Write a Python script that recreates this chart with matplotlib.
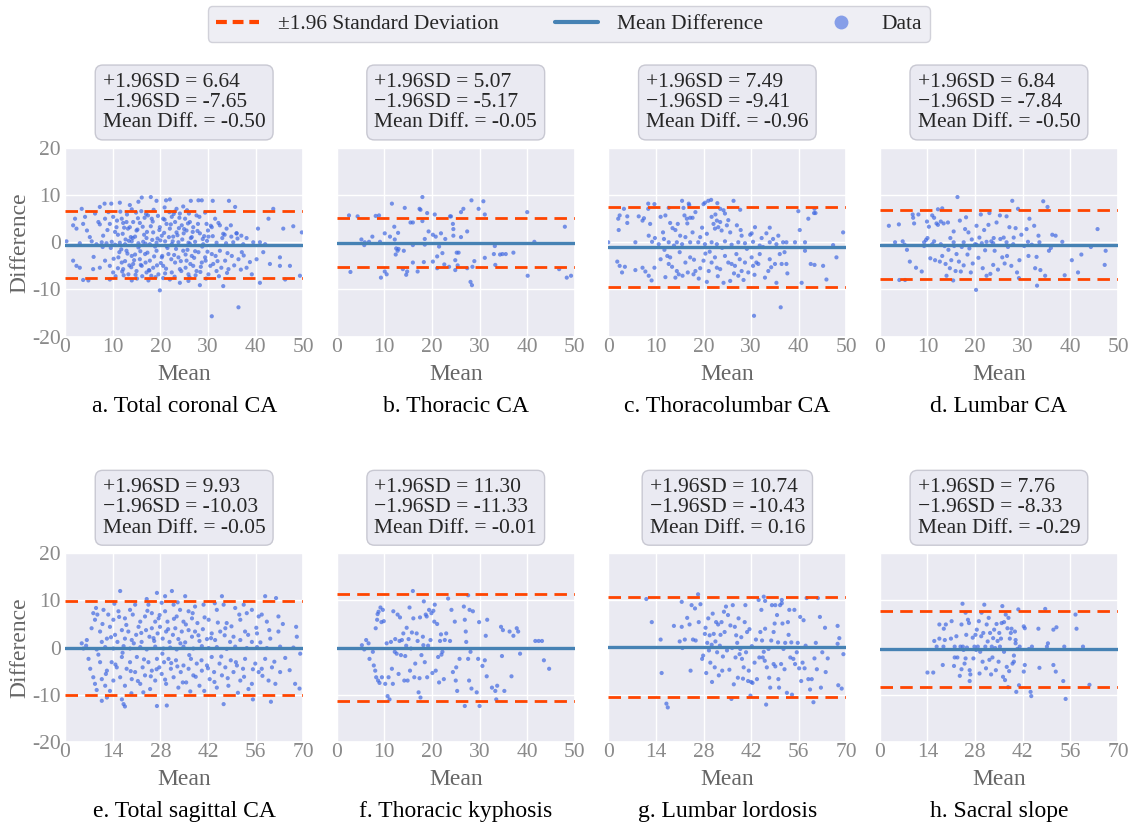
import numpy as np
import matplotlib
matplotlib.use("Agg")
import matplotlib.pyplot as plt
import seaborn as sns
from matplotlib.lines import Line2D

sns.set_theme(style="darkgrid")
plt.rcParams['font.family'] = ['Liberation Serif', 'DejaVu Serif']
plt.rcParams['axes.unicode_minus'] = False

# ---------------------------------------------------------------------------
# Panel data (mean, difference)
# ---------------------------------------------------------------------------
titles = ["a. Total coronal CA", "b. Thoracic CA", "c. Thoracolumbar CA", "d. Lumbar CA",
          "e. Total sagittal CA", "f. Thoracic kyphosis", "g. Lumbar lordosis", "h. Sacral slope"]
upper_sd = [6.64, 5.07, 7.49, 6.84, 9.93, 11.30, 10.74, 7.76]
lower_sd = [-7.65, -5.17, -9.41, -7.84, -10.03, -11.33, -10.43, -8.33]
mean_diff = [-0.50, -0.05, -0.96, -0.50, -0.05, -0.01, 0.16, -0.29]
x_max = [50, 50, 50, 50, 70, 50, 70, 70]
x_step = [10, 10, 10, 10, 14, 10, 14, 14]

a_pts = [
    (16.1, 9.5), (18.0, 9.6), (15.4, 8.6), (11.5, 8.4), (9.7, 8.2), (8.3, 8.2), (13.6, 7.9), (19.2, 8.8),
    (21.2, 8.9), (22.0, 9.1), (26.4, 8.8), (28.0, 8.9), (28.7, 8.9), (31.0, 8.8), (34.4, 8.8), (35.7, 7.5),
    (43.7, 7.1), (24.8, 7.6), (23.4, 7.1), (3.5, 7.1), (7.3, 7.5),
    (2.1, 5.0), (1.7, 3.6), (2.4, 2.9), (4.2, 5.4), (3.8, 3.9), (6.3, 6.1), (7.0, 4.3), (7.3, 3.8),
    (8.4, 5.0), (9.4, 3.9), (10.1, 5.4), (10.8, 3.2), (11.9, 5.0), (12.2, 4.1), (12.9, 4.3), (13.6, 3.2),
    (14.3, 4.3), (15.0, 2.5), (15.7, 4.1), (16.7, 5.2), (17.4, 5.7), (18.2, 5.0), (18.5, 2.1), (19.9, 3.2),
    (20.6, 5.0), (21.3, 3.9), (22.0, 2.9), (22.4, 5.4), (23.1, 4.3), (23.4, 2.1), (24.1, 6.1), (24.5, 3.6),
    (25.2, 5.0), (25.5, 2.5), (26.2, 4.3), (26.9, 3.2), (27.6, 5.7), (28.3, 1.9), (29.7, 3.9), (30.8, 3.2),
    (31.5, 5.0), (32.5, 3.6), (33.2, 1.8), (33.9, 2.9), (34.9, 1.2), (36.0, 1.9), (37.0, 1.4), (40.5, 2.9),
    (42.7, 5.0), (45.8, 2.9), (47.9, 3.4), (49.7, 2.1), (5.2, 1.1), (8.0, 1.4), (11.1, 1.6), (14.7, 1.2),
    (17.1, 0.9), (20.3, 1.4), (22.7, 1.2), (26.6, 1.1), (30.1, 1.2), (38.1, 0.9),
    (0.3, 0.2), (3.1, -0.2), (5.6, 0.2), (6.6, -0.4), (7.7, 0.0), (8.7, -0.2), (9.8, 0.1), (10.5, -0.5),
    (11.5, -0.1), (12.6, -0.4), (14.0, 0.2), (15.4, -0.2), (16.4, 0.1), (17.8, -0.4), (19.2, -0.1), (21.0, 0.2),
    (22.4, -0.4), (23.8, 0.0), (25.9, -0.1), (27.3, 0.1), (29.0, -0.4), (31.8, -0.1), (35.3, 0.0), (37.4, -0.4),
    (39.5, 0.0), (40.9, 0.0), (42.0, -0.4),
    (1.7, -3.9), (2.4, -5.0), (3.1, -5.4), (5.9, -5.7), (7.3, -5.4), (8.4, -3.9), (9.4, -5.0), (10.1, -6.4),
    (11.2, -3.2), (11.9, -4.3), (12.2, -5.7), (12.9, -1.8), (13.3, -6.8), (14.0, -2.9), (14.3, -4.6), (15.0, -6.1),
    (15.4, -1.1), (15.7, -3.6), (16.1, -5.0), (16.8, -2.5), (17.1, -6.4), (17.8, -3.9), (18.5, -5.4), (19.2, -1.8),
    (19.6, -6.8), (20.3, -3.2), (20.6, -5.0), (21.7, -2.5), (22.4, -6.4), (23.1, -4.3), (23.8, -3.2), (24.1, -5.7),
    (24.8, -1.8), (25.5, -3.9), (25.9, -6.8), (26.6, -2.9), (26.9, -5.0), (27.6, -6.1), (28.0, -2.1), (28.7, -4.3),
    (29.4, -3.2), (30.1, -6.8), (30.8, -2.5), (31.1, -4.6), (31.8, -6.1), (32.5, -1.8), (33.6, -3.9), (34.3, -5.7),
    (35.0, -2.9), (36.4, -3.6), (37.1, -2.1), (38.1, -5.4), (39.2, -6.8), (40.2, -3.6), (41.6, -2.1), (43.0, -4.6),
    (45.1, -5.0), (47.2, -5.0), (49.3, -7.1), (45.1, -3.2),
    (3.8, -8.0), (4.9, -8.1), (9.4, -7.9), (14.0, -8.1), (17.5, -8.1), (19.9, -10.2), (24.1, -8.6), (25.9, -8.2),
    (28.3, -9.1), (33.2, -9.3), (36.4, -13.8), (30.8, -15.7), (40.9, -8.6), (46.2, -7.9),
    (10.5, 2.2), (11.8, -1.5), (12.4, 3.1), (13.1, -2.4), (13.8, 1.1), (14.5, -3.8), (15.2, 2.7), (15.9, -4.8),
    (16.6, 1.6), (17.3, -2.2), (18.0, 3.4), (18.7, -3.0), (19.4, 0.8), (20.1, -4.4), (20.8, 2.0), (21.5, -1.2),
    (22.2, 3.8), (22.9, -2.7), (23.6, 1.5), (24.3, -4.0), (25.0, 2.8), (25.7, -1.6), (26.4, 0.9), (27.1, -3.3),
    (27.8, 2.4), (28.5, -5.2), (29.2, 1.3), (29.9, -2.0), (30.6, 3.5), (11.1, -5.5), (12.0, -6.2), (13.5, -4.9),
    (14.8, -6.9), (16.2, -7.2), (17.6, -5.9), (19.0, -7.4), (21.0, -6.6), (23.0, -7.3), (25.3, -5.4), (27.4, -7.0),
    (13.0, 5.9), (14.9, 6.3), (17.0, 6.0), (19.5, 5.6), (21.9, 6.4), (24.0, 5.2), (26.0, 6.1), (28.2, 5.4),
    (12.7, 0.6), (15.6, -0.7), (18.3, 0.5), (21.3, -0.8), (24.6, 0.6), (28.8, -0.9), (32.0, -4.0), (33.0, 0.9),
    (34.0, -6.5), (36.0, 1.9), (37.5, -2.8), (38.8, -4.2),
    (8.9, 2.6), (9.6, -1.2), (10.2, -3.5), (10.9, 4.6), (11.4, -2.1), (12.1, 1.8), (12.6, -4.0), (13.2, 2.9),
    (13.9, -5.3), (14.2, 0.9), (14.7, -2.6), (15.3, 5.1), (15.8, -1.9), (16.3, 3.3), (16.9, -4.3), (17.2, 2.2),
    (17.7, -6.0), (18.4, 4.4), (18.9, -0.9), (19.3, -4.9), (19.8, 2.6), (20.4, -2.9), (20.9, 4.8), (21.2, -5.6),
    (21.8, 1.1), (22.3, -3.6), (22.8, 6.0), (23.3, -1.4), (23.9, 3.0), (24.4, -6.1), (24.9, 1.9), (25.3, -2.6),
    (25.8, 4.0), (26.3, -4.6), (26.8, 2.2), (27.3, -1.9), (27.9, 3.9), (28.4, -6.3), (28.9, 0.7), (29.5, -3.9),
    (30.0, 2.5), (30.5, -5.0), (31.0, 1.3), (31.6, -2.9), (32.2, 4.1), (32.8, -5.4), (33.5, 1.6), (34.1, -2.3),
    (34.8, 3.6), (35.5, -4.9), (36.2, 0.8), (36.9, -5.8), (12.3, -7.0), (15.1, -7.7), (18.1, -7.1), (20.6, -7.6),
    (22.0, -7.9), (26.1, -7.4), (29.6, -7.7), (32.3, -7.2), (11.6, 6.5), (14.0, 7.0), (16.0, 6.6), (18.6, 6.9),
    (20.9, 7.4), (23.0, 6.5), (25.6, 6.8), (29.4, 6.3), (13.4, 0.3), (16.9, -0.3), (20.0, 0.4), (22.6, 0.2),
    (26.2, -0.3), (29.8, 0.3), (33.8, -0.2), (7.9, -1.0), (6.0, -3.1), (4.6, 2.5), (9.1, 6.4), (10.6, -7.2),
]

b_pts = [
    (2.6, 5.7), (2.9, -6.3), (4.4, 5.5), (5.2, 0.6), (5.8, -0.6), (5.9, 0.0), (6.8, 0.1), (7.5, 1.2),
    (8.2, 5.6), (8.9, 5.7), (9.1, 0.1), (9.3, -7.5), (10.1, 1.9), (10.1, -6.2), (10.5, -6.8), (11.2, 1.2),
    (11.6, 8.2), (12.1, 3.3), (12.2, 0.6), (12.4, -2.6), (12.5, -1.3), (12.8, -1.8), (12.9, 2.0), (13.0, -1.4),
    (13.9, -5.7), (14.1, -1.8), (14.3, 7.3), (14.6, -6.9), (14.8, -6.2), (15.5, 4.2), (16.0, 4.2), (16.0, -0.6),
    (16.0, -4.3), (17.0, -6.2), (17.4, 7.1), (17.6, 6.9), (18.0, 4.5), (18.0, 9.6), (18.3, -4.2), (18.5, 0.7),
    (18.5, -0.5), (19.0, 6.2), (19.3, 2.3), (20.2, 1.6), (20.2, -4.1), (20.6, 5.9), (20.8, 1.2), (21.1, -3.0),
    (21.1, -5.5), (21.5, -0.9), (21.9, 1.9), (22.2, -2.3), (22.6, -4.7), (22.8, 0.7), (23.6, -5.2), (23.8, 5.5),
    (24.0, 5.5), (24.4, 3.9), (24.5, 2.8), (24.5, 1.4), (24.9, -3.8), (24.9, -5.9), (25.2, -2.2), (25.4, -4.9),
    (25.6, -2.2), (26.1, 1.1), (26.1, 6.4), (26.6, 7.1), (27.4, 2.3), (27.4, -5.5), (28.1, -8.4), (28.3, 8.9),
    (28.4, -9.1), (28.5, -5.2), (28.9, -4.0), (29.8, 7.1), (30.8, 8.7), (31.1, 5.9), (31.1, -3.3), (33.0, -2.5),
    (33.2, -0.8), (33.3, -4.8), (34.3, -2.6), (34.8, -2.5), (35.5, -2.5), (37.1, -2.2), (40.0, 6.4), (40.1, -7.1),
    (41.5, 0.1), (46.7, -5.7), (47.9, 3.3), (48.3, -7.5), (49.2, -7.1),
]

c_pts = [
    (8.4, 8.2), (9.7, 8.1), (15.5, 8.8), (16.9, 8.2), (20.0, 8.1), (20.3, 8.4), (21.0, 8.8), (21.6, 9.0),
    (26.3, 8.8), (3.3, 7.1), (8.4, 7.1), (12.7, 7.3), (15.8, 7.3), (23.5, 7.1), (24.2, 6.8), (27.7, 6.9),
    (39.9, 6.6), (43.3, 7.1), (43.2, 6.2),
    (2.4, 5.7), (2.1, 5.0), (2.2, 2.6), (4.0, 5.5), (4.0, 4.1), (6.4, 5.5), (7.2, 4.6), (7.5, 5.1),
    (8.8, 3.9), (8.5, 1.4), (9.8, 0.9), (11.0, 5.4), (12.0, 5.7), (11.5, 2.1), (13.0, 4.1), (14.1, 2.6),
    (14.6, 3.9), (15.1, 1.4), (16.0, 5.7), (16.5, 5.0), (17.2, 5.2), (17.7, 5.2), (16.2, 1.1), (17.7, 2.1),
    (18.3, 6.4), (19.3, 1.1), (20.7, 1.8), (21.7, 5.4), (22.1, 3.9), (22.4, 2.9), (22.8, 4.6), (23.1, 3.2),
    (23.5, 4.3), (23.8, 2.5), (24.5, 6.1), (24.9, 3.6), (25.6, 2.1), (27.0, 3.6), (28.0, 1.4), (29.8, 1.6),
    (30.1, 1.9), (30.8, 3.2), (32.2, 0.9), (33.9, 3.1), (33.2, 1.9), (34.6, 0.7), (35.7, 1.4), (36.7, 0.0),
    (40.2, 2.6), (41.3, 0.0), (42.0, 5.0), (43.5, 6.2), (47.2, -0.6), (49.3, 2.1), (0.0, 0.0),
    (5.7, 0.0), (9.2, 0.1), (10.6, -0.4), (11.7, 0.7), (12.7, 0.0), (13.8, -0.7), (14.4, 0.0), (15.5, -0.4),
    (17.2, 0.0), (18.9, 0.0), (20.3, -0.4), (21.7, 0.0), (22.8, -0.4), (24.5, 0.2), (25.9, -0.5), (27.3, 0.0),
    (28.7, -0.2), (30.4, 0.1), (31.8, -0.7), (33.9, 0.0), (35.3, -0.4), (37.4, 0.0), (39.2, 0.0),
    (1.9, -4.1), (2.4, -5.0), (2.9, -6.4), (3.5, -5.2), (5.7, -5.9), (7.2, -5.4), (7.8, -6.2), (8.5, -7.1),
    (9.1, -8.1), (9.7, -5.4), (11.0, -3.6), (12.4, -2.9), (12.7, -4.6), (13.0, -3.2), (13.4, -5.2), (14.1, -7.5),
    (14.4, -6.1), (14.8, -6.8), (15.6, -7.1), (16.2, -4.3), (16.7, -6.4), (17.2, -3.2), (17.9, -6.8), (18.3, -6.1),
    (19.3, -5.5), (20.0, -3.9), (20.4, -2.4), (20.7, -8.4), (21.1, -6.1), (21.7, -4.3), (22.4, -3.2), (22.8, -5.4),
    (23.5, -5.7), (24.2, -8.6), (24.5, -2.9), (25.2, -4.3), (25.6, -8.2), (25.9, -4.6), (26.6, -5.0), (26.9, -2.5),
    (27.3, -7.1), (27.6, -3.6), (28.0, -6.1), (28.7, -4.3), (29.4, -6.4), (30.1, -3.2), (30.4, -5.0), (31.1, -4.3),
    (31.5, -4.6), (31.8, -2.5), (32.9, -7.5), (33.6, -6.1), (33.9, -3.6), (35.0, -4.6), (35.3, -8.6), (36.0, -2.5),
    (36.4, -4.6), (37.4, -4.6), (37.6, -6.6), (37.0, -2.1), (40.6, -8.6), (41.3, -1.8), (42.5, -4.6), (43.3, -4.8),
    (45.1, -5.0), (45.8, -7.9), (47.9, -3.2), (30.6, -15.6), (36.2, -13.8),
    (11.8, -1.6), (13.5, 3.0), (15.0, -2.1), (16.6, 4.0), (18.0, -3.7), (19.7, 3.1), (21.3, -2.0), (22.5, 5.9),
    (23.9, -1.2), (25.2, 4.7), (26.4, -6.6), (27.8, 2.6), (29.1, -1.4), (30.7, -6.9), (32.5, -1.0), (34.2, -5.3),
    (19.0, -7.7), (23.0, -7.2), (28.4, -8.0), (17.0, 7.9), (22.9, 8.3), (12.0, -7.4),
]

d_pts = [
    (1.9, 3.5), (4.0, 3.8), (4.1, -8.0), (5.3, -8.0), (3.2, 0.0), (4.8, 0.2), (5.2, -0.5), (5.7, -1.6),
    (6.3, -4.1), (6.9, 5.9), (7.0, 5.2), (7.2, 4.0), (7.6, -5.4), (8.1, 5.9), (8.8, -6.2), (9.3, -0.8),
    (9.7, 0.5), (9.9, 4.4), (10.0, 0.9), (10.3, 3.3), (10.6, -3.4), (11.0, 5.7), (11.0, -0.4), (11.4, 5.2),
    (11.6, -3.8), (11.9, 4.0), (12.2, 7.0), (12.2, 3.7), (12.6, -4.1), (12.8, 4.4), (13.1, 7.2), (13.1, -2.9),
    (13.4, 4.0), (13.6, -0.8), (13.8, -4.6), (14.0, -7.1), (14.3, 4.2), (14.4, -1.6), (14.7, -5.5), (14.8, 0.9),
    (15.0, -3.8), (15.4, -8.1), (15.5, 2.3), (15.6, -0.8), (15.9, -6.1), (16.1, -2.5), (16.3, 9.6), (16.6, -4.1),
    (16.8, 4.6), (17.0, -6.2), (17.2, -1.0), (17.6, -4.9), (17.9, 2.8), (18.1, 5.3), (18.4, -2.6), (18.6, 2.1),
    (18.8, -1.3), (19.1, -6.4), (19.3, 0.6), (19.5, -4.5), (20.0, -0.4), (20.2, -10.1), (20.3, 3.5), (20.7, -3.3),
    (20.9, 1.0), (21.2, 5.9), (21.4, -0.2), (21.6, -5.5), (21.9, 2.6), (22.1, -1.7), (22.4, -7.1), (22.8, 3.7),
    (23.0, 6.2), (23.2, -6.7), (23.4, 0.2), (23.8, -4.8), (23.9, 0.9), (24.1, -1.8), (24.5, 4.2), (24.8, -5.8),
    (25.2, 5.7), (25.3, 0.7), (25.7, -3.2), (26.0, 1.0), (26.2, -4.5), (26.6, 5.5), (26.7, -2.9), (26.9, -1.0),
    (27.2, 3.2), (27.6, -5.0), (27.8, 8.8), (28.1, 1.0), (28.5, 3.0), (28.8, -6.4), (29.0, 7.1), (29.2, -7.6),
    (29.3, -3.8), (29.7, 1.6), (30.3, -0.8), (30.8, 2.8), (31.2, -2.9), (31.4, 5.0), (31.9, -0.5), (32.4, 3.5),
    (32.6, -5.5), (32.9, -3.1), (33.0, -9.2), (33.3, 1.4), (33.7, -5.9), (34.3, 8.7), (34.7, -7.1), (35.2, 7.5),
    (35.5, -1.8), (35.9, -1.2), (36.2, 1.6), (36.9, 1.4), (38.8, -7.0), (40.3, -3.8), (41.6, -6.4), (42.3, -2.6),
    (44.3, -1.0), (45.7, 2.8), (47.2, -4.8), (47.4, -1.8),
    (9.3, 0.0), (11.4, 0.2), (12.8, -0.4), (15.5, 0.0), (17.6, 0.0), (20.3, -0.5), (22.4, 0.1), (23.8, -0.2),
    (26.6, 0.0), (28.0, -0.4), (31.1, 0.1), (33.5, 0.0), (38.3, 0.1),
]

e_pts = [
    (16.2, 12.0), (27.0, 11.6), (29.4, 10.9), (31.4, 12.0), (35.3, 10.9), (46.1, 10.9), (58.8, 10.9), (62.0, 10.5),
    (24.0, 10.3),
    (8.3, 7.3), (9.1, 8.4), (9.5, 7.0), (8.8, 5.9), (11.3, 8.0), (12.7, 7.0), (14.2, 5.9), (15.7, 7.7),
    (17.6, 6.2), (19.1, 8.0), (19.9, 7.0), (20.6, 9.1), (22.1, 5.5), (23.5, 6.6), (24.5, 9.1), (25.5, 7.3),
    (26.5, 5.5), (27.5, 6.2), (28.4, 9.5), (29.4, 7.7), (30.1, 5.5), (31.9, 9.1), (32.8, 6.6), (33.8, 8.0),
    (34.8, 5.5), (36.3, 7.7), (37.3, 6.2), (38.2, 8.7), (38.9, 5.2), (40.7, 9.1), (42.2, 5.9), (44.6, 8.0),
    (46.6, 9.1), (47.5, 5.2), (50.0, 8.4), (51.5, 5.9), (52.5, 9.1), (53.4, 7.3), (54.9, 8.0), (56.9, 6.6),
    (57.8, 7.0), (59.3, 5.5), (62.7, 6.6), (67.9, 4.4),
    (4.9, 0.9), (6.4, 1.6), (7.8, 4.1), (10.3, 3.4), (10.8, 1.2), (12.3, 1.9), (13.2, 4.4), (14.7, 2.7),
    (15.4, 1.2), (16.7, 3.7), (17.6, 1.9), (18.6, 3.4), (19.6, 1.6), (20.9, 2.7), (21.6, 4.4), (22.5, 1.2),
    (23.8, 3.7), (24.8, 2.3), (25.5, 4.1), (26.2, 1.4), (27.2, 3.0), (27.9, 4.4), (28.7, 1.9), (29.7, 3.4),
    (30.7, 1.2), (31.7, 2.7), (32.4, 4.1), (33.3, 1.8), (34.3, 3.4), (35.3, 1.1), (36.3, 3.7), (37.3, 2.3),
    (38.2, 3.4), (39.5, 1.4), (40.5, 3.9), (41.7, 1.8), (43.1, 3.0), (44.1, 1.6), (45.6, 3.4), (47.1, 4.1),
    (48.5, 1.2), (49.5, 2.3), (51.5, 1.6), (52.9, 3.4), (54.9, 1.2), (56.4, 3.0), (57.4, 1.1), (60.3, 1.9),
    (62.7, 3.4), (68.1, 2.3),
    (5.4, -0.2), (6.2, 0.4), (9.3, -0.4), (11.8, 0.1), (14.2, -0.2), (17.2, 0.3), (19.1, -0.2), (22.1, 0.1),
    (24.0, -0.4), (26.5, 0.2), (28.9, -0.2), (30.9, 0.0), (32.8, -0.4), (34.8, 0.2), (37.7, -0.2), (40.2, 0.3),
    (42.2, -0.1), (44.6, 0.1), (47.5, -0.3), (50.0, 0.2), (53.4, -0.1), (56.4, 0.1), (59.3, -0.1), (63.2, 0.2),
    (67.1, 0.0),
    (6.9, -2.4), (7.4, -4.5), (8.3, -6.3), (8.8, -7.7), (10.3, -3.1), (10.8, -6.7), (11.8, -8.1), (12.3, -4.9),
    (13.2, -9.2), (13.7, -3.1), (14.2, -7.0), (15.2, -4.2), (16.2, -6.3), (16.7, -2.0), (17.6, -8.1), (18.1, -4.5),
    (19.1, -3.1), (19.6, -6.7), (20.6, -5.2), (21.1, -2.0), (22.1, -7.7), (22.8, -4.2), (23.5, -5.9), (24.5, -3.1),
    (25.0, -8.8), (25.5, -4.9), (26.5, -7.0), (27.0, -2.4), (27.7, -4.2), (28.4, -5.6), (29.1, -3.1), (29.7, -7.7),
    (30.4, -2.4), (31.1, -4.5), (31.9, -6.3), (32.6, -2.7), (33.3, -8.5), (34.0, -5.2), (34.8, -3.8), (35.6, -7.4),
    (36.3, -4.5), (37.0, -2.4), (37.7, -5.9), (38.7, -3.4), (39.5, -8.1), (40.2, -4.9), (40.9, -9.2), (41.7, -3.8),
    (42.5, -6.7), (43.1, -2.0), (43.8, -5.2), (44.6, -8.5), (45.4, -3.4), (46.1, -5.9), (47.1, -4.2), (48.0, -8.1),
    (48.7, -2.7), (49.5, -5.2), (50.5, -3.8), (51.5, -7.0), (52.3, -4.5), (52.9, -2.4), (53.9, -8.8), (54.9, -7.7),
    (55.9, -3.4), (56.9, -5.2), (57.8, -4.5), (58.8, -2.4), (59.8, -7.0), (60.8, -4.2), (61.8, -7.7), (63.2, -5.2),
    (64.7, -2.2), (67.6, -7.7), (68.9, -8.7), (69.1, -1.3),
    (10.8, -11.3), (17.2, -12.0), (17.6, -12.5), (27.0, -12.4), (29.9, -12.3), (46.6, -12.0), (55.2, -11.0),
    (60.5, -11.5), (16.7, -11.0), (12.3, -10.6),
    (9.8, -1.5), (11.0, 5.0), (12.0, -5.6), (13.5, 2.2), (14.8, -3.6), (15.9, 6.5), (16.9, -1.1), (18.0, 4.8),
    (19.3, -5.0), (20.2, 0.9), (21.4, -7.1), (22.4, 3.1), (23.2, -2.5), (24.2, 7.8), (25.2, -6.1), (26.0, 2.0),
    (26.9, -4.6), (27.8, 6.9), (28.6, -1.3), (29.4, -6.8), (30.3, 3.9), (31.2, -3.3), (32.0, 6.1), (33.0, -4.0),
    (33.9, 0.9), (34.6, -7.4), (35.5, 4.9), (36.5, -1.6), (37.5, 7.3), (38.4, -6.2), (39.2, 2.6), (40.1, -2.7),
    (41.0, 6.4), (42.0, -4.4), (42.9, 2.0), (43.9, -7.3), (44.9, 5.3), (45.9, -1.9), (46.9, 2.6), (47.8, -6.5),
    (48.9, 4.5), (50.2, -3.1), (51.2, 7.0), (52.6, -6.2), (53.8, 2.7), (55.2, -4.6), (56.2, 4.2), (58.0, -6.0),
    (60.0, 3.7), (61.5, -3.0), (64.0, 5.0), (66.0, -4.8), (9.3, -9.0), (23.0, -9.5), (36.8, -9.3), (50.8, -9.6),
    (14.5, 9.3), (33.1, 9.6), (44.0, 9.4), (19.5, -9.7),
]

f_pts = [
    (5.3, 0.5), (5.8, -0.4), (6.2, 1.6), (6.7, 0.9), (6.9, -2.4), (7.6, -0.9), (7.8, -3.8), (8.1, -4.9),
    (8.2, 4.1), (8.3, -6.3), (8.5, 5.9), (8.6, 7.1), (8.7, -7.0), (8.8, 7.6), (9.0, -7.5), (9.2, 8.5),
    (9.4, 5.4), (9.5, -6.3), (9.7, 8.0), (9.9, 5.6), (10.2, -7.7), (10.5, 0.9), (10.7, -10.3), (10.9, -6.3),
    (11.1, -11.0), (11.4, 1.2), (11.6, -4.5), (11.8, -7.7), (11.9, 7.7), (12.2, -0.9), (12.3, 1.8), (12.6, -1.3),
    (12.8, 7.0), (13.0, -5.6), (13.2, 1.4), (13.3, 6.4), (13.5, -1.6), (13.7, 1.6), (14.0, 3.0), (14.2, -7.0),
    (14.4, -1.8), (14.6, 0.4), (14.7, 4.2), (14.9, -7.0), (15.1, 1.8), (15.3, 8.5), (15.4, -4.9), (15.6, -0.2),
    (15.8, 3.2), (16.0, 12.0), (16.1, 6.2), (16.3, -6.3), (16.5, -3.4), (16.8, 3.0), (17.0, 1.4), (17.2, -9.5),
    (17.4, -6.5), (17.5, 6.4), (17.6, -10.6), (17.8, -1.6), (18.1, 2.3), (18.2, 0.5), (18.3, 9.8), (18.5, -3.1),
    (18.7, 7.0), (18.9, 6.6), (19.0, -6.3), (19.2, 0.4), (19.4, 8.0), (19.7, 1.6), (19.9, 7.3), (20.1, -5.4),
    (20.3, 7.8), (20.5, 5.5), (20.6, 9.1), (20.8, -4.9), (21.1, 5.0), (21.3, -2.0), (21.5, -7.4), (21.7, 1.4),
    (21.9, 2.8), (22.0, -1.5), (22.2, -0.9), (22.5, -6.7), (22.7, 1.6), (23.0, 3.0), (23.4, 10.4), (23.8, 1.4),
    (24.1, 8.0), (24.4, -5.2), (24.8, 5.5), (25.0, -7.0), (25.1, -4.2), (25.3, -9.2), (25.8, -2.4), (26.7, 8.7),
    (26.9, 5.9), (27.1, 3.4), (27.2, 1.2), (27.6, -2.4), (27.8, -7.0), (27.9, 8.0), (28.1, -0.9), (28.3, -8.7),
    (28.6, 7.7), (29.4, -9.5), (29.7, -2.4), (29.9, 5.4), (30.0, -12.4), (30.6, -3.9), (31.1, -2.7), (31.3, 2.5),
    (31.5, -6.1), (31.6, 5.9), (32.6, -8.5), (33.3, -9.2), (33.5, -11.0), (33.7, -8.1), (34.5, 4.4), (34.7, -1.8),
    (34.9, 3.7), (35.2, -9.2), (36.3, 3.4), (36.7, -6.1), (37.1, 2.5), (37.8, 4.1), (38.1, 3.4), (38.5, -1.3),
    (41.7, 1.4), (42.4, 1.4), (43.1, 1.4), (43.5, -2.7), (44.6, -4.5), (26.9, -12.4), (27.6, 11.1),
]

g_pts = [
    (11.2, 10.3), (12.8, 5.4), (15.4, 1.7), (15.7, -5.4), (17.1, -11.9), (17.5, -12.7), (19.3, 4.6), (21.0, 1.3),
    (21.6, 4.4), (21.6, 9.7), (21.8, -0.1), (22.5, 1.7), (23.2, 6.3), (23.9, 4.9), (24.2, -4.9), (24.5, 9.0),
    (24.9, 1.7), (25.5, 8.3), (25.7, 1.5), (26.4, 11.3), (26.6, 5.4), (27.1, 9.2), (27.6, -2.4), (27.9, -1.7),
    (28.4, 2.9), (28.6, 4.2), (28.8, -5.4), (29.1, 1.0), (29.4, 6.2), (29.6, -0.6), (29.8, 2.6), (30.0, -3.2),
    (30.4, 0.6), (30.5, -7.3), (30.7, 7.2), (31.0, 2.9), (31.3, -4.2), (31.5, 1.3), (31.7, 5.4), (32.0, -1.0),
    (32.3, 4.9), (32.5, -5.9), (32.8, 0.4), (33.0, 2.7), (33.3, 5.4), (33.5, -4.9), (33.7, -1.9), (34.0, 7.6),
    (34.2, 3.3), (34.6, 8.7), (34.9, -0.6), (35.2, 6.9), (35.6, -4.7), (35.9, 4.7), (36.2, -10.9), (36.4, -0.1),
    (36.6, 9.0), (36.9, -7.8), (37.2, 4.4), (37.4, -2.1), (37.6, 2.6), (37.9, 1.0), (38.1, -6.4), (38.3, 6.2),
    (38.6, -1.4), (38.8, -0.3), (39.1, 2.2), (39.3, -2.4), (39.6, -6.6), (39.8, -4.2), (40.1, 5.4), (40.3, 9.0),
    (40.5, -1.0), (40.8, 3.3), (41.1, -7.1), (41.3, -4.9), (41.5, 3.9), (41.8, -10.2), (42.0, -7.3), (42.2, 0.3),
    (42.4, -7.5), (43.0, -3.2), (43.4, 1.7), (43.7, -6.7), (44.2, 10.1), (44.4, -2.1), (44.7, 3.3), (45.0, 8.0),
    (45.2, 1.5), (45.4, -2.1), (45.7, 10.8), (46.0, -2.8), (46.1, 4.0), (46.4, -12.1), (46.6, -4.2), (47.1, -0.3),
    (47.3, -6.4), (47.6, -8.5), (47.9, 1.5), (48.1, 9.0), (48.6, -3.5), (48.9, 5.1), (49.1, -4.0), (49.6, 6.9),
    (49.9, 1.1), (50.0, -6.7), (50.2, -8.5), (50.5, 9.0), (50.8, -3.5), (51.0, 10.1), (51.2, 5.1), (51.5, -0.3),
    (51.8, -4.6), (52.0, 1.0), (52.5, -9.6), (52.8, 5.4), (53.0, 2.7), (53.2, 8.0), (53.5, -2.1), (53.8, 1.1),
    (54.0, -10.0), (54.4, -2.4), (54.7, 8.0), (54.9, -3.5), (55.4, -1.0), (55.7, 1.0), (56.1, -4.4), (56.4, 6.5),
    (56.7, -7.1), (57.1, -3.2), (57.4, 5.8), (57.7, -4.4), (58.0, 0.4), (58.3, 10.5), (58.8, -6.7), (59.3, -8.9),
    (59.8, -6.7), (60.3, -11.6), (60.6, -2.3), (61.0, 1.0), (61.3, -4.6), (61.6, 10.5), (62.2, 6.5), (62.5, -8.5),
    (62.9, -1.0), (63.7, 4.2), (63.9, -5.2), (64.5, -2.3), (67.4, 4.6), (67.6, -8.0), (67.9, 2.0), (68.6, -8.7),
    (69.1, -1.4), (67.4, 0.8), (46.1, 9.9), (51.0, 9.4), (49.1, 9.0), (45.7, -0.9), (48.6, 3.3),
]

h_pts = [
    (14.0, -5.3), (15.7, -5.3), (16.0, 1.4), (16.7, 0.2), (17.5, 4.9), (17.5, 1.9), (18.5, -3.7), (18.7, 0.2),
    (18.8, 4.0), (19.1, 1.6), (19.4, 4.9), (20.9, 1.9), (21.1, 5.6), (21.8, -3.9), (22.0, 0.2), (22.5, 2.4),
    (22.8, -2.1), (23.5, -6.0), (23.7, 0.2), (24.0, 4.9), (24.0, -4.6), (24.3, 9.3), (24.4, 0.2), (24.6, -0.5),
    (24.9, -3.4), (25.2, -2.3), (25.2, 7.4), (25.4, 2.7), (25.6, 0.0), (25.9, 5.9), (26.2, 5.2), (26.4, -4.8),
    (26.4, -7.1), (26.6, -5.7), (27.3, 2.1), (27.5, -2.3), (27.8, 0.2), (28.1, 2.7), (28.3, -0.5), (28.5, 3.8),
    (28.8, 0.2), (29.1, 5.6), (29.3, -5.5), (29.5, -0.9), (29.8, 2.4), (29.9, 7.4), (30.2, -3.0), (30.4, 3.1),
    (30.7, 9.1), (31.0, 0.2), (31.2, -4.4), (31.4, 4.9), (31.7, 1.3), (32.0, 6.3), (32.2, -2.6), (32.4, 3.1),
    (32.7, -5.7), (32.9, 0.2), (33.1, -2.1), (33.3, 2.0), (33.6, 3.8), (33.9, -0.1), (34.1, -4.8), (34.3, 5.0),
    (34.6, 1.4), (34.9, -3.0), (35.1, 3.1), (35.3, 0.2), (35.6, 1.9), (35.8, 5.2), (36.0, 8.8), (36.2, -6.2),
    (36.5, -0.9), (36.8, -6.9), (37.0, 7.0), (37.3, -4.1), (37.5, 4.1), (37.7, -8.4), (37.8, 6.3), (38.0, -5.0),
    (38.2, 1.9), (38.5, 3.1), (38.7, 4.0), (39.0, -3.4), (39.4, -3.0), (39.7, 3.4), (39.9, 0.9), (40.1, -9.4),
    (40.4, -0.3), (40.7, 8.1), (40.9, -8.0), (41.1, 0.2), (42.3, 4.5), (42.6, 4.1), (42.3, -5.1), (42.6, -3.7),
    (44.3, -9.4), (44.5, -10.3), (44.7, 0.2), (46.6, 4.0), (46.9, -4.3), (48.6, 8.2), (49.1, 0.2), (49.4, 0.9),
    (51.0, 3.8), (51.0, -3.7), (51.7, -5.1), (51.9, 4.3), (53.9, -7.1), (54.2, 0.2), (54.6, -10.9), (57.5, 7.0),
    (57.8, 4.0), (59.7, 0.2), (61.6, -7.9), (39.4, -1.7), (39.9, 1.6), (43.8, -0.3), (36.5, 5.4), (22.0, -2.1),
]

panels = [a_pts, b_pts, c_pts, d_pts, e_pts, f_pts, g_pts, h_pts]

# ---------------------------------------------------------------------------
# Figure
# ---------------------------------------------------------------------------
DOT = '#4169E1'
MEAN_C = '#4682B4'
SD_C = '#FF4500'
TICK_C = '#8a8a8a'
LABEL_C = '#666666'
BG = '#EAEAF2'

fig, axes = plt.subplots(2, 4, figsize=(11.33, 8.27), dpi=100)
fig.subplots_adjust(left=0.0574, right=0.9868, top=0.821, bottom=0.103, wspace=0.14, hspace=1.15)

for i, ax in enumerate(axes.flat):
    pts = np.array(panels[i])
    ax.scatter(pts[:, 0], pts[:, 1], s=9, color=DOT, alpha=0.7, edgecolors='none', zorder=3)
    ax.axhline(mean_diff[i], color=MEAN_C, lw=2.4, zorder=4)
    ax.axhline(upper_sd[i], color=SD_C, lw=2.0, dashes=(4.5, 2.6), zorder=4)
    ax.axhline(lower_sd[i], color=SD_C, lw=2.0, dashes=(4.5, 2.6), zorder=4)

    ax.set_xlim(0, x_max[i])
    ax.set_ylim(-20, 20)
    ax.set_xticks(np.arange(0, x_max[i] + 1, x_step[i]))
    ax.set_yticks([-20, -10, 0, 10, 20])
    ax.tick_params(axis='both', labelsize=15.5, colors=TICK_C, length=0)
    ax.tick_params(axis='x', pad=1)
    ax.tick_params(axis='y', pad=3)
    if i % 4 != 0:
        ax.set_yticklabels([])
    else:
        ax.set_ylabel("Difference", fontsize=17, color=LABEL_C, labelpad=1)
    ax.set_xlabel("Mean", fontsize=17, color=LABEL_C, labelpad=5)

    txt = (f"+1.96SD = {upper_sd[i]:.2f}\n"
           f"\u22121.96SD = {lower_sd[i]:.2f}\n"
           f"Mean Diff. = {mean_diff[i]:.2f}")
    ax.text(0.5, 1.083, txt, transform=ax.transAxes, ha='center', va='bottom',
            fontsize=15.5, linespacing=1.1, multialignment='left',
            bbox=dict(boxstyle='round,pad=0.35', fc=BG, ec='#c8c8d2', lw=1))
    ax.text(0.5, -0.315, titles[i], transform=ax.transAxes, ha='center', va='top',
            fontsize=17, color='black')

handles = [
    Line2D([], [], color=SD_C, lw=3, dashes=(2.6, 1.4)),
    Line2D([], [], color=MEAN_C, lw=3),
    Line2D([], [], color=DOT, marker='o', ls='none', markersize=10, alpha=0.6, markeredgecolor='none'),
]
labels = ["\u00b11.96 Standard Deviation", "Mean Difference", "Data"]
leg = fig.legend(handles, labels, loc='upper center', bbox_to_anchor=(0.502, 1.0), ncol=3,
                 fontsize=15.5, frameon=True, handlelength=2.0, columnspacing=2.6,
                 borderpad=0.35, handletextpad=0.9, borderaxespad=0.3)
leg.get_frame().set_facecolor(BG)
leg.get_frame().set_edgecolor('#c8c8d2')

plt.savefig('out.png', dpi=100)
